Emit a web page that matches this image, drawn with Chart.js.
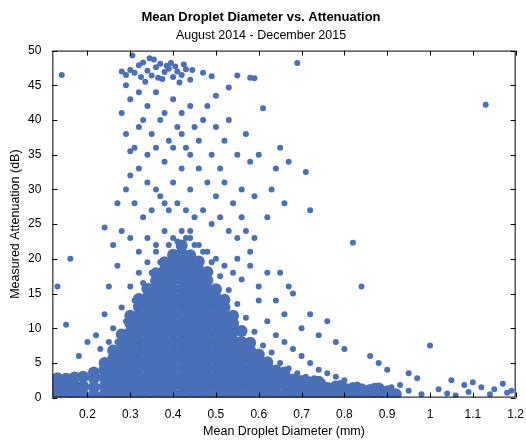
<!DOCTYPE html>
<html><head><meta charset="utf-8">
<script src="https://cdn.jsdelivr.net/npm/chart.js@4"></script>
<style>body{margin:0;background:#fff}#wrap{width:526px;height:445px}</style>
</head><body><div id="wrap"><canvas id="c"></canvas></div>
<script>
// DATA
const xTicks = [0.2,0.3,0.4,0.5,0.6,0.7,0.8,0.9,1,1.1,1.2];
const yTicks = [0,5,10,15,20,25,30,35,40,45,50];

// dense core, per diameter column
const coreDiameters = [0.13,0.15,0.17,0.19,0.215,0.24,0.26,0.28,0.30,0.32,0.34,0.36,0.38,0.40,0.42,0.44,0.46,0.48,0.50,0.52,0.54,0.56,0.58,0.60,0.62,0.64,0.66,0.68,0.70,0.72,0.74,0.76,0.78,0.80,0.82,0.84,0.86,0.88,0.90,0.92];
const coreAttenuations = [
  [0.4,1.6,2.8],[0.3,1.5,2.7],[0.5,1.7,2.9],[0.4,1.6,3.0],[0.3,1.5,2.8,3.6],
  [0.4,1.6,2.9,4.1,5.0],
  [0.5,1.7,3.0,4.4,5.6,6.8],
  [0.3,1.5,2.8,4.0,5.3,6.6,7.9,9.1],
  [0.6,1.8,3.1,4.3,5.6,6.9,8.2,9.4,10.7,11.8],
  [0.4,1.6,2.9,4.2,5.4,6.7,8.0,9.3,10.5,11.8,13.1,14.2],
  [0.5,1.8,3.0,4.3,5.5,6.8,8.1,9.4,10.6,11.9,13.2,14.4,15.7],
  [0.3,1.6,2.8,4.1,5.4,6.6,7.9,9.2,10.4,11.7,13.0,14.3,15.5,16.8,17.9],
  [0.6,1.9,3.1,4.4,5.6,6.9,8.2,9.5,10.7,12.0,13.3,14.5,15.8,17.1,18.3,19.5],
  [0.4,1.7,2.9,4.2,5.5,6.7,8.0,9.3,10.5,11.8,13.1,14.4,15.6,16.9,18.2,19.4,20.6],
  [0.5,1.8,3.0,4.3,5.6,6.8,8.1,9.4,10.6,11.9,13.2,14.4,15.7,17.0,18.2,19.5,20.8,21.9],
  [0.3,1.6,2.9,4.1,5.4,6.7,7.9,9.2,10.5,11.7,13.0,14.3,15.5,16.8,18.1,19.3,20.5],
  [0.6,1.9,3.1,4.4,5.7,6.9,8.2,9.5,10.7,12.0,13.3,14.5,15.8,17.1,18.4,19.6],
  [0.4,1.7,2.9,4.2,5.5,6.7,8.0,9.3,10.6,11.8,13.1,14.4,15.6,16.9,18.1],
  [0.5,1.8,3.0,4.3,5.6,6.8,8.1,9.4,10.6,11.9,13.2,14.4,15.6],
  [0.3,1.6,2.9,4.1,5.4,6.7,7.9,9.2,10.5,11.7,13.0,14.1],
  [0.6,1.9,3.1,4.4,5.7,6.9,8.2,9.5,10.7,11.8],
  [0.4,1.7,2.9,4.2,5.5,6.7,8.0,9.6],
  [0.5,1.8,3.0,4.3,5.6,6.8,7.9],
  [0.3,1.6,2.9,4.1,5.3,6.2],
  [0.6,1.9,3.1,4.4,5.1],
  [0.4,1.7,2.9,3.9],
  [0.5,1.8,2.9,3.6],
  [0.4,1.6,2.6],[0.3,1.5,2.4],[0.5,1.6,2.2],[0.4,1.5,2.3],[0.3,1.4],[0.5,1.6],
  [0.4,1.3],[0.3,1.4],[0.5,1.2],[0.4,1.1],[0.3,1.3],[0.4,0.9],[0.5]
];

// scattered measurements
const scatterDiameters = [
  0.28,0.29,0.30,0.31,0.32,0.33,0.34,0.35,0.36,0.37,0.38,0.39,0.40,0.41,0.42,0.43,0.44,0.305,0.335,0.355,0.375,0.395,0.415,0.325,0.345,0.365,0.385,0.405,0.425,0.29,0.445,0.47,0.49,0.50,0.53,0.55,0.58,0.59,0.61,0.69,0.14,1.13,
  0.28,0.29,0.30,0.31,0.32,0.33,0.34,0.35,0.36,0.37,0.38,0.39,0.40,0.41,0.42,0.43,0.44,0.45,0.46,0.47,0.30,0.32,0.34,0.36,0.38,0.40,0.42,0.44,0.46,0.48,0.50,0.52,0.54,0.56,0.31,0.33,0.35,0.37,0.39,0.41,0.43,0.45,0.47,0.49,0.51,0.53,0.55,0.57,0.59,0.62,0.64,0.65,0.67,0.66,0.71,0.72,0.60,0.58,0.57,0.55,0.52,0.50,0.48,0.49,0.51,0.53,0.56,0.59,0.63,0.36,0.38,0.40,0.42,0.44,0.34,0.32,0.30,0.29,0.27,
  0.26,0.28,0.30,0.32,0.34,0.36,0.38,0.40,0.42,0.44,0.46,0.48,0.50,0.52,0.54,0.56,0.58,0.60,0.62,0.64,0.66,0.68,0.70,0.72,0.74,0.76,0.78,0.80,0.82,0.84,0.86,0.88,0.90,0.95,1.00,1.05,1.08,1.10,1.12,1.15,1.17,1.19,1.02,0.97,0.93,0.16,0.13,0.15,0.18,0.20,0.22,0.24,0.25,0.26,0.23,0.28,0.30,0.32,0.34,0.36,0.44,0.24,0.60,0.62,0.64,0.66,0.68,0.70,0.72,0.74,0.76,0.78,0.80,0.65,0.67,0.58,0.55,0.27,0.25,
  0.27,0.29,0.31,0.33,0.35,0.37,0.39,0.41,0.43,0.45,0.47,0.49,0.51,0.53,0.55,0.57,0.59,0.61,0.63,0.65,0.67,0.69,0.71,0.73,0.75,0.79,0.83,0.87,0.91,0.95,0.98,1.04,1.09,1.14,1.18,1.06
];
const scatterAttenuations = [
  47.0,46.5,47.2,46.8,47.9,48.3,47.1,46.4,47.6,48.1,46.9,47.4,46.2,47.0,46.5,47.3,45.8,49.3,45.5,48.7,45.9,48.2,45.4,46.2,48.9,46.1,47.8,47.7,48.0,45.0,47.2,46.8,46.3,43.5,44.7,46.4,46.1,46.0,41.7,48.2,46.5,42.2,
  41,38,43,36,44,40,42,38,44,40,41,37,43,39,41,36,42,39,37,40,35.5,33,35,30,34,31,33,30,33,31,29,31,28,26,28,26,27,29,27,28,27,26,27,25,26,24,23,24,23,26,33,36,34,28,32.5,27,35,34,38,35,37,39,42,35,33,40,30,29,30,36,28,36,38,35,31,39,32,30,28,
  22,24,23,21,23,22,24,23,24,23,22,21,20,19,18,17,19,16,18,14,12,15,10,12,9,11,8,7,22.3,16,6,5,4,3.5,7.5,2.5,1.8,2.2,1.5,1.2,2.0,1.0,1.2,2.8,1.8,20,16,10.5,6,8,9,12,16,10,7,13,16,18,19.5,21,24,24.5,14,11,9,8,7,6,5,4,3.5,3,2.5,18,16,21,20,19,8,
  8,11,14,16.5,18,19.5,22,22.5,23,22,21,19.5,17.5,15.5,13.5,11.5,9.5,7.5,6.5,5,4.2,3.5,3,2.8,2.2,2.1,1.9,1.7,1.5,1.0,0.5,0.6,0.8,0.5,0.7,0.3
];

const blue = "#4a70b8";
const corePoints = [];
coreDiameters.forEach((d, i) => coreAttenuations[i].forEach(a => corePoints.push({x: d, y: a})));
const scatterPoints = scatterDiameters.map((d, i) => ({x: d, y: scatterAttenuations[i]}));

// box + inward ticks like the original
const boxPlugin = {
    id: "box",
    afterDraw(chart) {
        const {ctx, chartArea: a, scales: {x, y}} = chart;
        ctx.save();
        ctx.strokeStyle = "#000";
        ctx.lineWidth = 1;
        ctx.strokeRect(a.left + 0.5, a.top + 0.5, a.right - a.left - 1, a.bottom - a.top - 1);
        ctx.beginPath();
        xTicks.forEach(v => {
            const p = Math.round(x.getPixelForValue(v)) + 0.5;
            ctx.moveTo(p, a.bottom); ctx.lineTo(p, a.bottom - 5);
            ctx.moveTo(p, a.top); ctx.lineTo(p, a.top + 5);
        });
        yTicks.forEach(v => {
            const p = Math.round(y.getPixelForValue(v)) + 0.5;
            ctx.moveTo(a.left, p); ctx.lineTo(a.left + 5, p);
            ctx.moveTo(a.right, p); ctx.lineTo(a.right - 5, p);
        });
        ctx.stroke();
        ctx.restore();
    }
};

Chart.defaults.font.family = "'Liberation Sans', Arial, sans-serif";
Chart.defaults.color = "#000";

new Chart(document.getElementById("c"), {
    type: "scatter",
    data: {
        datasets: [
            {data: corePoints, backgroundColor: blue, borderWidth: 0, pointRadius: 6},
            {data: scatterPoints, backgroundColor: blue, borderWidth: 0, pointRadius: 3}
        ]
    },
    options: {
        responsive: true,
        maintainAspectRatio: false,
        animation: false,
        layout: {padding: {right: 8, top: 0, left: 4, bottom: 2}},
        plugins: {
            legend: {display: false},
            tooltip: {enabled: false},
            title: {display: true, text: "Mean Droplet Diameter vs. Attenuation",
                font: {size: 13, weight: "bold"}, padding: {top: 10, bottom: 2}},
            subtitle: {display: true, text: "August 2014 - December 2015",
                font: {size: 12.5}, padding: {bottom: 8}}
        },
        scales: {
            x: {
                min: 0.118, max: 1.2,
                afterBuildTicks: s => { s.ticks = xTicks.map(v => ({value: v})); },
                ticks: {font: {size: 12}, padding: 2, callback: v => String(Math.round(v * 10) / 10)},
                grid: {display: false},
                border: {display: false},
                title: {display: true, text: "Mean Droplet Diameter (mm)", font: {size: 12.5}, padding: {top: 0}}
            },
            y: {
                min: 0, max: 50,
                afterBuildTicks: s => { s.ticks = yTicks.map(v => ({value: v})); },
                ticks: {font: {size: 12}, padding: 3},
                grid: {display: false},
                border: {display: false},
                title: {display: true, text: "Measured Attenuation (dB)", font: {size: 12.5}, padding: {bottom: 2}}
            }
        }
    },
    plugins: [boxPlugin]
});
</script></body></html>
